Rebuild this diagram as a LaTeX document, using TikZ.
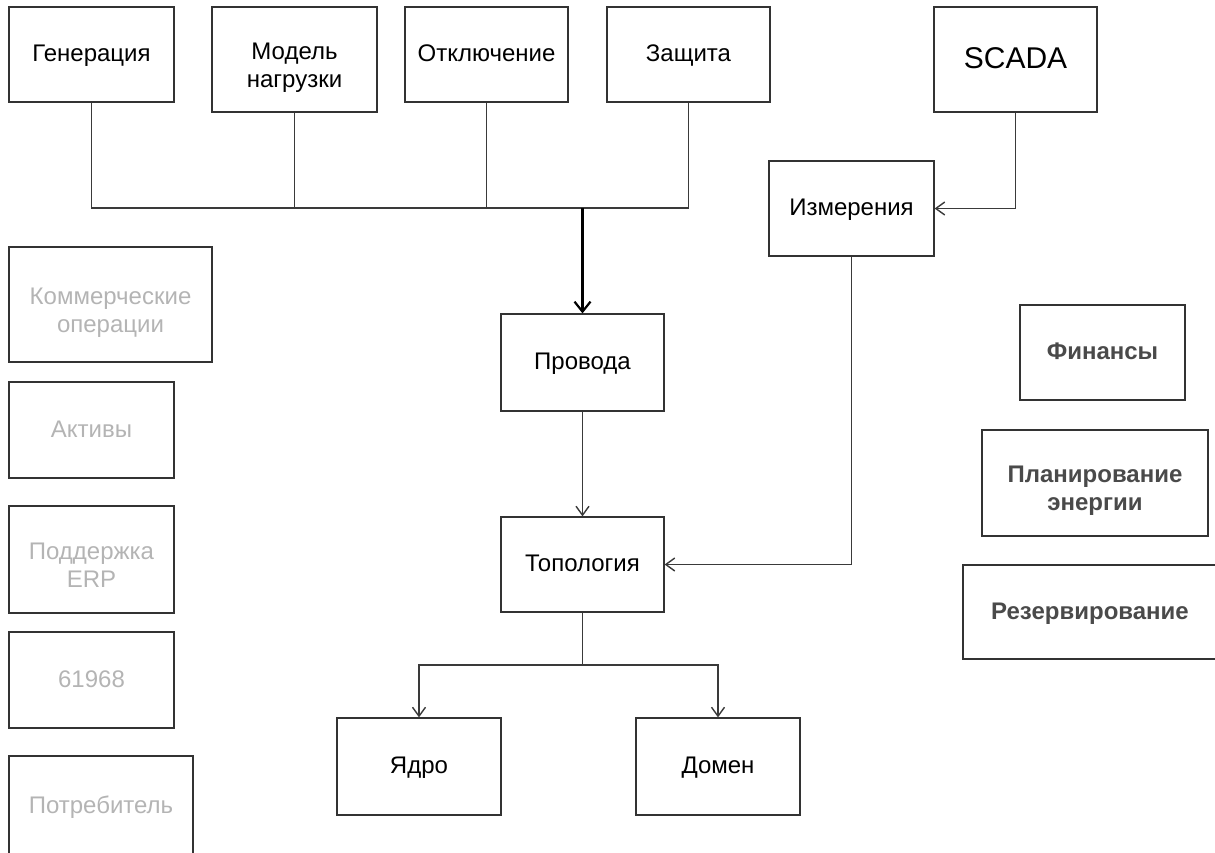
\documentclass[tikz,border=0pt]{standalone}
\usepackage{fontspec}
\setmainfont{Liberation Sans}
\usetikzlibrary{arrows.meta}
\definecolor{boxline}{HTML}{333333}
\definecolor{fadetext}{HTML}{B4B4B4}
\definecolor{darktext}{HTML}{4A4A4A}
\definecolor{wire}{HTML}{3A3A3A}

\begin{document}
\begin{tikzpicture}[x=0.5pt,y=-0.5pt,
  >={Straight Barb[length=4.5pt,width=6.5pt]},
  block/.style={draw=boxline,line width=0.6pt,inner sep=0pt,align=center,text=black,
    font=\fontsize{12}{14}\selectfont,text height=10.4pt,text depth=3pt},
  twoline/.style={text height=30.6pt,text depth=3pt},
  faded/.style={block,text=fadetext},
  extra/.style={block,text=darktext,font=\fontsize{12}{14}\selectfont\bfseries},
  link/.style={draw=wire,line width=0.7pt},
  mainlink/.style={draw=black,line width=1.1pt,-{Straight Barb[length=5pt,width=8pt]}}]
\useasboundingbox (0,0) rectangle (1215,852);
\clip (0,0) rectangle (1215,852);
% top row
\node[block,minimum width=82.5pt,minimum height=47.5pt] (gen) at (91.5,54.5) {Генерация};
\node[block,twoline,minimum width=82.5pt,minimum height=52.5pt] (load) at (294.5,59.5) {Модель\\нагрузки};
\node[block,minimum width=81.5pt,minimum height=47.5pt] (outage) at (486.5,54.5) {Отключение};
\node[block,minimum width=81.5pt,minimum height=47.5pt] (prot) at (688.5,54.5) {Защита};
\node[block,minimum width=81.5pt,minimum height=52.5pt,font=\fontsize{15}{18}\selectfont,text height=11.5pt] (scada) at (1015.5,59.5) {SCADA};
% middle
\node[block,minimum width=82.5pt,minimum height=47.5pt] (meas) at (851.5,208.5) {Измерения};
\node[block,minimum width=81.5pt,minimum height=48.5pt] (wires) at (582.5,362.5) {Провода};
\node[block,minimum width=81.5pt,minimum height=47.5pt] (topo) at (582.5,564.5) {Топология};
\node[block,minimum width=82pt,minimum height=48.5pt] (core) at (419,766.5) {Ядро};
\node[block,minimum width=82pt,minimum height=48.5pt] (domain) at (718,766.5) {Домен};
% left column
\node[faded,twoline,minimum width=101.5pt,minimum height=57.5pt] (comm) at (110.5,304.5) {Коммерческие\\операции};
\node[faded,minimum width=82.5pt,minimum height=48pt] (assets) at (91.5,430) {Активы};
\node[faded,twoline,minimum width=82.5pt,minimum height=53.5pt] (erp) at (91.5,559.5) {Поддержка\\ERP};
\node[faded,minimum width=82.5pt,minimum height=48pt] (iec) at (91.5,680) {61968};
\node[faded,minimum width=92pt,minimum height=50pt] (cons) at (101,806) {Потребитель};
% right column
\node[extra,minimum width=82.5pt,minimum height=47.5pt] (fin) at (1102.5,352.5) {Финансы};
\node[extra,twoline,minimum width=113pt,minimum height=53pt] (plan) at (1095,483) {Планирование\\энергии};
\node[extra,minimum width=127pt,minimum height=47pt] (reserv) at (1090,612) {Резервирование};
%
\coordinate (bus) at (582.5,208);
\coordinate (split) at (582.5,665);
\draw[link] (gen.south) |- (bus);
\draw[link] (load.south) |- (bus);
\draw[link] (outage.south) |- (bus);
\draw[link] (prot.south) |- (bus);
\draw[mainlink] (bus) -- (wires.north);
\draw[link,->] (wires.south) -- (topo.north);
\draw[link,->] (scada.south) |- (meas.east);
\draw[link,->] (meas.south) |- (topo.east);
\draw[link] (topo.south) -- (split);
\draw[link,->] (split) -| (core.north);
\draw[link,->] (split) -| (domain.north);
\end{tikzpicture}
\end{document}
